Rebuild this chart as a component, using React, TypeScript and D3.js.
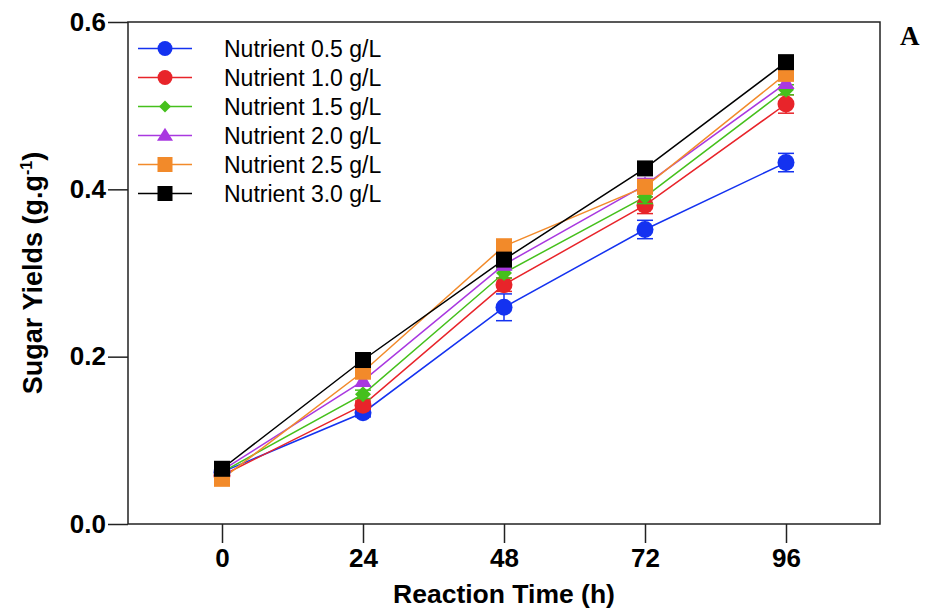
import React, { useEffect, useRef } from 'react';
import * as d3 from 'd3';

// reaction time (h)
const times = [0, 24, 48, 72, 96];
const seriesNames = ['Nutrient 0.5 g/L', 'Nutrient 1.0 g/L', 'Nutrient 1.5 g/L', 'Nutrient 2.0 g/L', 'Nutrient 2.5 g/L', 'Nutrient 3.0 g/L'];
const seriesColors = ['#1432f0', '#e8242a', '#45c01c', '#a938e0', '#f28a2a', '#000000'];
const seriesShapes = ['circle', 'circle', 'diamond', 'triangle', 'square', 'square'];

// sugar yields (g.g-1)
const yield05 = [0.062, 0.133, 0.259, 0.352, 0.432];
const yield10 = [0.058, 0.142, 0.286, 0.381, 0.502];
const yield15 = [0.062, 0.155, 0.300, 0.391, 0.519];
const yield20 = [0.064, 0.171, 0.310, 0.405, 0.527];
const yield25 = [0.054, 0.182, 0.332, 0.403, 0.538];
const yield30 = [0.066, 0.196, 0.316, 0.425, 0.552];

// error (sd)
const err05 = [0.004, 0.005, 0.016, 0.011, 0.011];
const err10 = [0.003, 0.005, 0.008, 0.010, 0.011];
const err15 = [0.003, 0.005, 0.006, 0.008, 0.006];
const err20 = [0.003, 0.006, 0.006, 0.008, 0.006];
const err25 = [0.003, 0.006, 0.005, 0.008, 0.006];
const err30 = [0.004, 0.008, 0.006, 0.006, 0.005];

const yTicks = [0, 0.2, 0.4, 0.6];

const W = 926, H = 613;
const margin = { top: 22, right: 46, bottom: 89, left: 128 };
const font = 'Arial, "Liberation Sans", Helvetica, sans-serif';

function drawMarker(g: any, shape: string, cx: number, cy: number, color: string, big: boolean) {
  const r = big ? 8.5 : 7.5;
  if (shape === 'circle') {
    g.append('circle').attr('cx', cx).attr('cy', cy).attr('r', r).attr('fill', color);
  } else if (shape === 'square') {
    const s = big ? 16 : 15;
    g.append('rect').attr('x', cx - s / 2).attr('y', cy - s / 2).attr('width', s).attr('height', s).attr('fill', color);
  } else if (shape === 'diamond') {
    const d = big ? 8 : 6;
    g.append('polygon')
      .attr('points', [[cx, cy - d], [cx + d, cy], [cx, cy + d], [cx - d, cy]].map(p => p.join(',')).join(' '))
      .attr('fill', color);
  } else {
    const hw = big ? 8.5 : 8, h = big ? 15 : 13;
    g.append('polygon')
      .attr('points', [[cx, cy - h * 0.6], [cx + hw, cy + h * 0.4], [cx - hw, cy + h * 0.4]].map(p => p.join(',')).join(' '))
      .attr('fill', color);
  }
}

export default function App() {
  const ref = useRef<SVGSVGElement>(null);

  useEffect(() => {
    const svg = d3.select(ref.current);
    svg.selectAll('*').remove();

    const values = [yield05, yield10, yield15, yield20, yield25, yield30];
    const errors = [err05, err10, err15, err20, err25, err30];

    const x = d3.scaleLinear().domain([-16, 112]).range([margin.left, W - margin.right]);
    const y = d3.scaleLinear().domain([0, 0.6]).range([H - margin.bottom, margin.top]);

    // frame
    svg.append('rect')
      .attr('x', margin.left).attr('y', margin.top)
      .attr('width', W - margin.right - margin.left)
      .attr('height', H - margin.bottom - margin.top)
      .attr('fill', 'none').attr('stroke', '#222').attr('stroke-width', 1.5);

    const yAxis = svg.append('g')
      .attr('transform', 'translate(' + margin.left + ',0)')
      .call(d3.axisLeft(y).tickValues(yTicks).tickSize(20).tickPadding(2).tickFormat(d3.format('.1f')));
    yAxis.select('.domain').remove();
    yAxis.selectAll('line').attr('stroke', '#222').attr('stroke-width', 1.5);
    yAxis.selectAll('text').attr('font-family', font).attr('font-size', 26).attr('font-weight', 'bold').attr('fill', '#000');

    const xAxis = svg.append('g')
      .attr('transform', 'translate(0,' + (H - margin.bottom) + ')')
      .call(d3.axisBottom(x).tickValues(times).tickSize(19).tickPadding(6).tickFormat(d3.format('d')));
    xAxis.select('.domain').remove();
    xAxis.selectAll('line').attr('stroke', '#222').attr('stroke-width', 1.5);
    xAxis.selectAll('text').attr('font-family', font).attr('font-size', 26).attr('font-weight', 'bold').attr('fill', '#000');

    // titles
    svg.append('text')
      .attr('x', x(48)).attr('y', 603)
      .attr('text-anchor', 'middle')
      .attr('font-family', font).attr('font-size', 26.5).attr('font-weight', 'bold')
      .text('Reaction Time (h)');

    const yt = svg.append('text')
      .attr('transform', 'translate(42,273) rotate(-90)')
      .attr('text-anchor', 'middle')
      .attr('font-family', font).attr('font-size', 27).attr('font-weight', 'bold');
    yt.append('tspan').text('Sugar Yields (g.g');
    yt.append('tspan').attr('font-size', 16).attr('dy', -10).text('-1');
    yt.append('tspan').attr('dy', 10).text(')');

    svg.append('text')
      .attr('x', 900).attr('y', 45)
      .attr('font-family', '"Times New Roman", "Liberation Serif", serif')
      .attr('font-size', 27).attr('font-weight', 'bold')
      .text('A');

    const line = d3.line<number>().x((d, i) => x(times[i])).y(d => y(d));

    // lines
    values.forEach((vals, s) => {
      svg.append('path')
        .attr('d', line(vals))
        .attr('fill', 'none')
        .attr('stroke', seriesColors[s])
        .attr('stroke-width', 1.5);
    });

    // error bars and markers
    values.forEach((vals, s) => {
      const g = svg.append('g');
      vals.forEach((v, i) => {
        const cx = x(times[i]);
        const e = errors[s][i];
        const y0 = y(v - e), y1 = y(v + e);
        g.append('line').attr('x1', cx).attr('x2', cx).attr('y1', y0).attr('y2', y1)
          .attr('stroke', seriesColors[s]).attr('stroke-width', 1.5);
        [y0, y1].forEach(yy => {
          g.append('line').attr('x1', cx - 8).attr('x2', cx + 8).attr('y1', yy).attr('y2', yy)
            .attr('stroke', seriesColors[s]).attr('stroke-width', 1.5);
        });
        drawMarker(g, seriesShapes[s], cx, y(v), seriesColors[s], true);
      });
    });

    // legend
    const legend = svg.append('g');
    seriesNames.forEach((name, s) => {
      const cy = 48.5 + s * 29;
      legend.append('line').attr('x1', 138).attr('x2', 192).attr('y1', cy).attr('y2', cy)
        .attr('stroke', seriesColors[s]).attr('stroke-width', 1.5);
      drawMarker(legend, seriesShapes[s], 165, cy, seriesColors[s], false);
      legend.append('text')
        .attr('x', 224).attr('y', cy + 8)
        .attr('font-family', font).attr('font-size', 23)
        .attr('fill', '#000')
        .text(name);
    });
  }, []);

  return (
    <svg ref={ref} width={W} height={H} style={{ position: 'absolute', left: 0, top: 0, background: '#fff' }} />
  );
}
